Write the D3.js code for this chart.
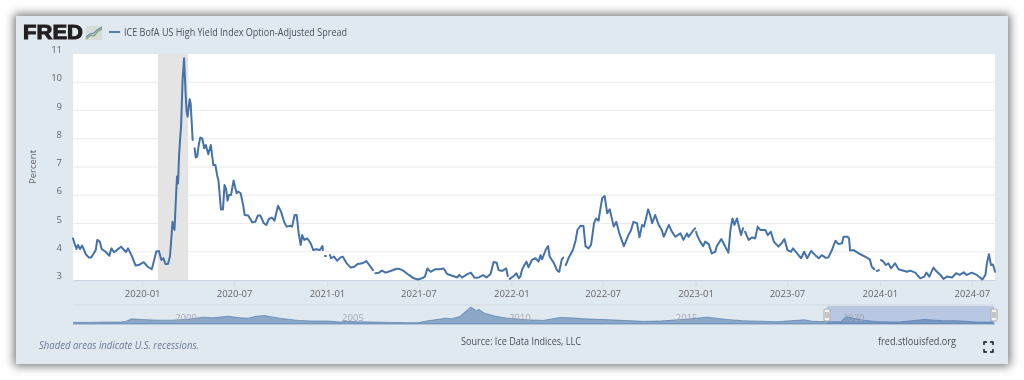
<!DOCTYPE html>
<html>
<head>
<meta charset="utf-8">
<script src="https://cdn.jsdelivr.net/npm/d3@7"></script>
<style>
  html, body { margin: 0; padding: 0; background: #fff; overflow: hidden; }
  #panel { position: absolute; left: 16px; top: 16px; width: 992px; height: 348px; background: #e1e9f0; box-shadow: 0 0 9px 2px rgba(0,0,0,.55); }
  #chart { position: absolute; left: 0; top: 0; filter: blur(.35px); }
  text { font-family: "Open Sans", sans-serif; }
</style>
</head>
<body>
<div id="panel"></div>
<div id="chart"></div>
<script>
//values, null = gap in the line
var dates2019 = ["2019-08-17","2019-08-21","2019-08-24","2019-08-27","2019-08-31","2019-09-04","2019-09-08","2019-09-11","2019-09-17","2019-09-22","2019-09-27","2019-10-01","2019-10-04","2019-10-09","2019-10-13","2019-10-20","2019-10-28","2019-11-01","2019-11-06","2019-11-11","2019-11-20","2019-11-30","2019-12-04","2019-12-12","2019-12-19","2019-12-25"];
var values2019 = [4.47,4.24,4.10,4.24,4.10,4.22,4.06,3.92,3.80,3.80,3.94,4.06,4.42,4.36,4.09,4.01,3.86,4.12,3.99,4.04,4.18,3.99,4.12,3.83,3.51,3.53];

var dates2020 = ["2020-01-04","2020-01-12","2020-01-20","2020-01-26","2020-01-29","2020-02-03","2020-02-08","2020-02-12","2020-02-16","2020-02-21","2020-02-25","2020-02-28","2020-03-01","2020-03-05","2020-03-08","2020-03-10","2020-03-12","2020-03-14","2020-03-16","2020-03-18","2020-03-21","2020-03-24","2020-03-27","2020-03-29","2020-03-31","2020-04-04","2020-04-06","2020-04-10","2020-04-12","2020-04-14","2020-04-16","2020-04-19","2020-04-22","2020-04-25","2020-04-29","2020-05-03","2020-05-06","2020-05-11","2020-05-16","2020-05-21","2020-05-25","2020-05-29","2020-05-31","2020-06-05","2020-06-09","2020-06-12","2020-06-15","2020-06-18","2020-06-21","2020-06-25","2020-06-30","2020-07-06","2020-07-09","2020-07-14","2020-07-19","2020-07-22","2020-07-29","2020-08-06","2020-08-12","2020-08-17","2020-08-22","2020-08-29","2020-09-03","2020-09-08","2020-09-14","2020-09-19","2020-09-26","2020-10-02","2020-10-08","2020-10-13","2020-10-21","2020-10-24","2020-10-29","2020-11-02","2020-11-06","2020-11-10","2020-11-13","2020-11-17","2020-11-23","2020-11-29","2020-12-05","2020-12-11","2020-12-18","2020-12-23","2020-12-24","2020-12-26","2020-12-28","2020-12-30","2021-01-02"];
var values2020 = [3.63,3.47,3.38,3.80,4.01,4.03,3.71,3.77,3.57,3.57,3.83,4.53,5.06,4.77,5.95,6.66,6.42,7.37,7.96,8.43,10.08,10.85,9.61,8.96,8.78,9.40,9.25,7.96,null,7.66,7.34,7.37,7.78,8.04,8.01,7.66,7.78,7.45,7.78,7.07,7.07,6.66,6.54,5.50,5.50,6.36,6.24,5.81,6.01,6.01,6.52,6.07,6.13,6.07,5.65,5.30,5.28,5.04,5.06,5.28,5.28,5.01,4.95,5.16,5.21,5.10,5.63,5.42,5.06,4.89,4.92,4.89,5.30,5.30,4.65,4.24,4.59,4.42,4.47,4.32,4.06,4.09,4.06,4.20,4.06,null,3.85,3.85,null];

var dates2021 = ["2021-01-07","2021-01-09","2021-01-15","2021-01-21","2021-01-28","2021-02-01","2021-02-09","2021-02-17","2021-02-24","2021-03-03","2021-03-12","2021-03-20","2021-03-27","2021-04-02","2021-04-05","2021-04-07","2021-04-14","2021-04-20","2021-04-27","2021-05-07","2021-05-17","2021-05-23","2021-06-02","2021-06-12","2021-06-22","2021-06-30","2021-07-08","2021-07-14","2021-07-19","2021-07-25","2021-08-03","2021-08-12","2021-08-20","2021-08-27","2021-09-06","2021-09-16","2021-09-20","2021-09-26","2021-10-06","2021-10-13","2021-10-20","2021-10-29","2021-11-06","2021-11-13","2021-11-21","2021-11-27","2021-12-03","2021-12-07","2021-12-14","2021-12-22","2021-12-25","2021-12-27","2021-12-29"];
var values2021 = [3.88,3.77,3.83,3.68,3.80,3.83,3.59,3.44,3.47,3.57,3.59,3.67,3.50,3.35,null,3.24,3.26,3.33,3.26,3.32,3.39,3.40,3.32,3.18,3.06,3.02,3.06,3.12,3.41,3.29,3.38,3.38,3.41,3.21,3.15,3.09,3.18,3.09,3.21,3.26,3.08,3.09,3.17,3.09,3.21,3.64,3.61,3.35,3.32,3.41,3.14,null,3.04];

var dates2022 = ["2022-01-06","2022-01-11","2022-01-16","2022-01-19","2022-01-22","2022-01-27","2022-01-31","2022-02-04","2022-02-11","2022-02-18","2022-02-24","2022-02-28","2022-03-03","2022-03-10","2022-03-15","2022-03-18","2022-03-26","2022-04-02","2022-04-06","2022-04-11","2022-04-14","2022-04-16","2022-04-19","2022-04-25","2022-05-03","2022-05-08","2022-05-12","2022-05-18","2022-05-24","2022-05-28","2022-06-03","2022-06-08","2022-06-14","2022-06-18","2022-06-23","2022-06-25","2022-06-30","2022-07-05","2022-07-10","2022-07-15","2022-07-23","2022-07-28","2022-08-03","2022-08-12","2022-08-21","2022-08-26","2022-08-31","2022-09-07","2022-09-12","2022-09-17","2022-09-21","2022-09-29","2022-10-03","2022-10-07","2022-10-13","2022-10-20","2022-10-26","2022-10-30","2022-11-09","2022-11-15","2022-11-22","2022-12-02","2022-12-08","2022-12-15","2022-12-18","2022-12-28","2022-12-31","2023-01-01"];
var values2022 = [3.14,3.24,3.06,3.12,3.35,3.53,3.65,3.45,3.71,3.77,3.65,3.88,3.73,4.06,4.20,3.83,3.61,3.33,3.29,3.73,3.79,null,3.53,3.80,4.06,4.36,4.77,4.92,4.91,4.20,4.12,4.24,5.01,5.18,5.10,5.36,5.89,5.97,5.36,5.50,4.89,5.06,4.65,4.20,4.59,4.75,5.06,5.01,4.51,4.95,4.89,5.50,5.30,5.01,5.30,4.95,4.77,4.53,4.95,4.71,4.53,4.65,4.42,4.65,4.53,4.77,4.83,null];

var dates2023 = ["2023-01-02","2023-01-04","2023-01-10","2023-01-16","2023-01-20","2023-01-27","2023-02-02","2023-02-09","2023-02-12","2023-02-21","2023-02-27","2023-03-07","2023-03-11","2023-03-15","2023-03-19","2023-03-24","2023-04-01","2023-04-05","2023-04-07","2023-04-09","2023-04-16","2023-04-23","2023-04-29","2023-05-04","2023-05-09","2023-05-19","2023-05-24","2023-05-30","2023-06-05","2023-06-14","2023-06-21","2023-06-26","2023-07-02","2023-07-09","2023-07-13","2023-07-21","2023-07-29","2023-08-04","2023-08-10","2023-08-18","2023-08-26","2023-09-02","2023-09-08","2023-09-15","2023-09-21","2023-09-28","2023-10-05","2023-10-11","2023-10-18","2023-10-21","2023-10-29","2023-11-01","2023-11-03","2023-11-10","2023-11-20","2023-11-30","2023-12-12","2023-12-16","2023-12-21","2023-12-23","2023-12-26","2023-12-30","2024-01-01"];
var values2023 = [4.71,4.59,4.36,4.20,4.36,4.27,3.94,4.00,4.20,4.45,4.24,3.97,4.77,5.18,4.95,5.18,4.59,4.83,null,4.71,4.42,4.51,4.47,4.89,4.77,4.77,4.59,4.71,4.36,4.18,4.32,4.45,4.06,4.00,4.12,3.94,3.77,4.00,3.77,4.03,3.88,3.77,3.88,3.79,3.80,4.06,4.39,4.27,4.30,4.53,4.53,4.47,4.04,4.06,3.94,3.85,3.73,3.47,3.38,null,3.32,3.35,null];

var dates2024 = ["2024-01-03","2024-01-08","2024-01-13","2024-01-18","2024-01-23","2024-01-31","2024-02-07","2024-02-17","2024-02-24","2024-03-01","2024-03-11","2024-03-21","2024-03-29","2024-04-02","2024-04-08","2024-04-16","2024-04-23","2024-04-30","2024-05-06","2024-05-13","2024-05-23","2024-05-31","2024-06-07","2024-06-15","2024-06-21","2024-07-01","2024-07-11","2024-07-22","2024-07-28","2024-07-31","2024-08-04","2024-08-08","2024-08-12","2024-08-16"];
var values2024 = [3.71,3.65,3.53,3.59,3.41,3.59,3.38,3.33,3.29,3.33,3.26,3.06,3.12,3.26,3.12,3.44,3.29,3.18,3.04,3.12,3.09,3.24,3.18,3.27,3.18,3.26,3.18,3.02,3.18,3.59,3.91,3.53,3.55,3.29];

//navigator, whole history
var navDates = ["1997-01","1997-07","1998-01","1998-06","1998-08","1998-10","1999-01","1999-07","2000-01","2000-07","2000-12","2001-03","2001-09","2002-01","2002-04","2002-07","2002-10","2003-01","2003-04","2003-10","2004-03","2004-09","2005-01","2005-03","2005-07","2006-01","2006-07","2007-01","2007-05","2007-08","2008-01","2008-03","2008-05","2008-08","2008-12","2009-02","2009-03","2009-05","2009-09","2010-01","2010-08","2011-02","2011-08","2011-12","2012-05","2013-02","2014-02","2014-08","2015-06","2016-01","2016-08","2017-02","2018-02","2018-12","2019-03","2019-10","2020-01","2020-03","2020-05","2020-09","2021-02","2021-10","2022-07","2023-02","2023-07","2024-02","2024-08"];
var navValues = [4.25,4.25,4.6,4.6,5.36,8.3,7.6,6.8,6.8,8.0,10.2,9.4,11.3,9.4,9.1,11.3,12.0,10.2,8.7,6.5,5.7,5.7,4.6,5.4,5.0,4.6,4.25,3.9,3.9,5.7,8.0,9.1,8.3,10.9,21.7,17.6,19.1,14.6,11.3,9.1,7.2,6.5,9.8,9.4,8.3,7.2,5.4,5.7,8.0,10.2,7.6,6.1,5.0,7.2,5.4,5.0,5.0,10.9,9.4,6.8,5.0,4.6,7.6,6.1,6.1,4.6,4.6];

var yTicks = [3, 4, 5, 6, 7, 8, 9, 10, 11];
var xTickDates = ["2020-01-01","2020-07-01","2021-01-01","2021-07-01","2022-01-01","2022-07-01","2023-01-01","2023-07-01","2024-01-01","2024-07-01"];
var navYears = ["2000","2005","2010","2015","2020"];
var recessionDates = ["2020-02-01","2020-04-01"];
var viewDates = ["2019-08-17","2024-08-16"];
var navRange = ["1996-12-31","2024-08-16"];

var parseDay = d3.timeParse("%Y-%m-%d");
var parseMonth = d3.timeParse("%Y-%m");
var parseYear = d3.timeParse("%Y");
var formatTick = d3.timeFormat("%Y-%m");

var dates = dates2019.concat(dates2020, dates2021, dates2022, dates2023, dates2024).map(parseDay);
var values = values2019.concat(values2020, values2021, values2022, values2023, values2024);
var series = d3.zip(dates, values);
var navSeries = d3.zip(navDates.map(parseMonth), navValues);

var w = 1024;
var h = 380;
var left = 73;
var right = 995;
var top_ = 54;
var bottom = 280;
var navTop = 306;
var navBottom = 324;

var xScale = d3.scaleTime().domain(viewDates.map(parseDay)).range([left, right]);
var yScale = d3.scaleLinear().domain([3, 11]).range([bottom, top_]);
var navX = d3.scaleTime().domain(navRange.map(parseDay)).range([left, right]);
var navY = d3.scaleLinear().domain([2.4, 21.8]).range([navBottom, navTop + 1]);

var svg = d3.select("#chart").append("svg").attr("width", w).attr("height", h);

//header
svg.append("text").attr("x", 23).attr("y", 39)
  .style("font-family", "'Liberation Sans', sans-serif")
  .style("font-size", "20px").style("font-weight", "bold")
  .attr("fill", "#231f20").attr("stroke", "#231f20").attr("stroke-width", 1)
  .attr("textLength", 60).attr("lengthAdjust", "spacingAndGlyphs")
  .text("FRED");

var logo = svg.append("g").attr("transform", "translate(86,26)");
logo.append("rect").attr("width", 16).attr("height", 14).attr("fill", "#d5dcd8");
logo.append("path").attr("d", d3.line()([[0, 13], [5, 9], [8, 10], [12, 5], [16, 3]]))
  .attr("fill", "none").attr("stroke", "#7fa678").attr("stroke-width", 1.4);
logo.append("path").attr("d", d3.line()([[0, 11], [4, 8], [8, 7], [11, 4], [16, 1]]))
  .attr("fill", "none").attr("stroke", "#6c88aa").attr("stroke-width", 1.1);

svg.append("line").attr("x1", 109).attr("x2", 120).attr("y1", 32).attr("y2", 32)
  .attr("stroke", "#4572a7").attr("stroke-width", 1.8);
svg.append("text").attr("x", 124).attr("y", 36)
  .style("font-size", "10px").attr("fill", "#4c5056")
  .attr("textLength", 223).attr("lengthAdjust", "spacingAndGlyphs")
  .text("ICE BofA US High Yield Index Option-Adjusted Spread");

//plot background
svg.append("rect").attr("x", left).attr("y", top_)
  .attr("width", right - left).attr("height", bottom - top_).attr("fill", "#fff");

//grid
svg.selectAll("line.grid").data(yTicks.slice(1, -1)).enter().append("line")
  .attr("class", "grid")
  .attr("x1", left).attr("x2", right)
  .attr("y1", function(d) { return yScale(d); })
  .attr("y2", function(d) { return yScale(d); })
  .attr("stroke", "#ebebeb").attr("stroke-width", 1.2);

//recession
var recStart = xScale(parseDay(recessionDates[0]));
var recEnd = xScale(parseDay(recessionDates[1]));
svg.append("rect").attr("x", recStart).attr("y", top_)
  .attr("width", recEnd - recStart).attr("height", bottom - top_).attr("fill", "#e4e4e4");

//axes
var yAxis = d3.axisLeft(yScale).tickValues(yTicks).tickSize(0).tickPadding(11);
var yGroup = svg.append("g").attr("transform", "translate(" + left + ",0)").call(yAxis);
yGroup.select(".domain").remove();
yGroup.selectAll("text").attr("dy", "-1.5px").style("font-size", "9.5px").attr("fill", "#666");

var xAxis = d3.axisBottom(xScale).tickValues(xTickDates.map(parseDay)).tickFormat(formatTick)
  .tickSize(7).tickSizeOuter(0).tickPadding(3);
var xGroup = svg.append("g").attr("transform", "translate(0," + bottom + ")").call(xAxis);
xGroup.select(".domain").attr("stroke", "#c8d4e2");
xGroup.selectAll("line").attr("stroke", "#d3deea");
xGroup.selectAll("text").style("font-size", "9.5px").attr("fill", "#666");

svg.append("text").attr("transform", "translate(36,167) rotate(-90)")
  .attr("text-anchor", "middle").style("font-size", "9.5px").attr("fill", "#666").text("Percent");

//series
var line = d3.line()
  .defined(function(d) { return d[1] !== null; })
  .x(function(d) { return xScale(d[0]); })
  .y(function(d) { return yScale(d[1]); });

svg.append("path").datum(series).attr("d", line)
  .attr("fill", "none").attr("stroke", "#4572a7").attr("stroke-width", 2)
  .attr("stroke-linejoin", "round").attr("stroke-linecap", "round");

//navigator
var selStart = 827;
var selEnd = 994;

svg.append("line").attr("x1", left).attr("x2", right).attr("y1", navTop - 1).attr("y2", navTop - 1)
  .attr("stroke", "#d3dbe2").attr("stroke-width", 1);
svg.append("rect").attr("x", selStart).attr("y", navTop)
  .attr("width", selEnd - selStart).attr("height", navBottom - navTop).attr("fill", "#b9c8e2");

var navArea = d3.area()
  .x(function(d) { return navX(d[0]); })
  .y0(navBottom)
  .y1(function(d) { return navY(d[1]); });
var navLine = d3.line()
  .x(function(d) { return navX(d[0]); })
  .y(function(d) { return navY(d[1]); });

svg.append("path").datum(navSeries).attr("d", navArea).attr("fill", "#4572a7").attr("fill-opacity", .55);
svg.append("path").datum(navSeries).attr("d", navLine).attr("fill", "none")
  .attr("stroke", "#4572a7").attr("stroke-opacity", .6).attr("stroke-width", 1);
svg.append("line").attr("x1", left).attr("x2", right).attr("y1", navBottom).attr("y2", navBottom)
  .attr("stroke", "#4572a7").attr("stroke-opacity", .6).attr("stroke-width", 1);

svg.selectAll("text.navYear").data(navYears).enter().append("text")
  .attr("class", "navYear")
  .attr("x", function(d) { return navX(parseYear(d)) + 2; })
  .attr("y", 321)
  .style("font-size", "9.5px").attr("fill", "#a3a9ae")
  .text(function(d) { return d; });

[selStart, selEnd].forEach(function(x) {
  svg.append("rect").attr("x", x - 3).attr("y", 309).attr("width", 6).attr("height", 12)
    .attr("fill", "#f2f2f2").attr("stroke", "#a8a8a8").attr("rx", 1);
  svg.append("line").attr("x1", x - 1).attr("x2", x - 1).attr("y1", 312).attr("y2", 318).attr("stroke", "#999");
  svg.append("line").attr("x1", x + 1).attr("x2", x + 1).attr("y1", 312).attr("y2", 318).attr("stroke", "#999");
});

//footer
svg.append("text").attr("x", 39).attr("y", 349)
  .style("font-size", "10px").style("font-style", "italic").attr("fill", "#6b7a99")
  .attr("textLength", 160).attr("lengthAdjust", "spacingAndGlyphs")
  .text("Shaded areas indicate U.S. recessions.");
svg.append("text").attr("x", 461).attr("y", 345)
  .style("font-size", "10px").attr("fill", "#4c5056")
  .attr("textLength", 120).attr("lengthAdjust", "spacingAndGlyphs")
  .text("Source: Ice Data Indices, LLC");
svg.append("text").attr("x", 878).attr("y", 345)
  .style("font-size", "10px").attr("fill", "#4c5056")
  .attr("textLength", 78).attr("lengthAdjust", "spacingAndGlyphs")
  .text("fred.stlouisfed.org");

//fullscreen icon
svg.append("path")
  .attr("d", "M984 345v-3h3M990 342h3v3M993 349v3h-3M987 352h-3v-3")
  .attr("fill", "none").attr("stroke", "#111").attr("stroke-width", 1.4);
</script>
</body>
</html>
